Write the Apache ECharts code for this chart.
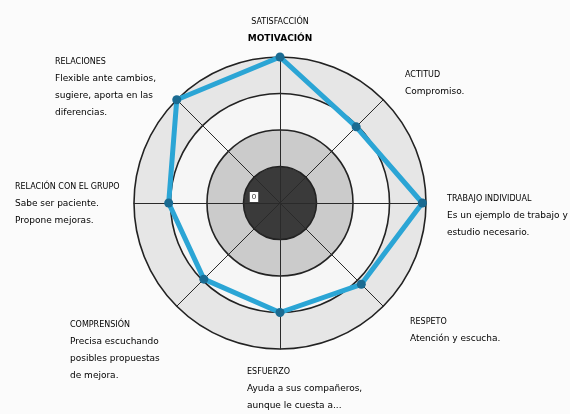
<!DOCTYPE html>
<html>
<head>
<meta charset="utf-8">
<script src="https://cdn.jsdelivr.net/npm/echarts@6/dist/echarts.min.js"></script>
<style>
  html, body { margin: 0; padding: 0; background: #fbfbfb; }
</style>
</head>
<body>
<div id="chart" style="width: 570px; height: 414px;"></div>
<script>
// ejes del radar (orden antihorario, empezando arriba)
const titles = ['SATISFACCIÓN', 'RELACIONES', 'RELACIÓN CON EL GRUPO', 'COMPRENSIÓN', 'ESFUERZO', 'RESPETO', 'TRABAJO INDIVIDUAL', 'ACTITUD'];
const notes = [
  ['MOTIVACIÓN'],
  ['Flexible ante cambios,', 'sugiere, aporta en las', 'diferencias.'],
  ['Sabe ser paciente.', 'Propone mejoras.'],
  ['Precisa escuchando', 'posibles propuestas', 'de mejora.'],
  ['Ayuda a sus compañeros,', 'aunque le cuesta a...'],
  ['Atención y escucha.'],
  ['Es un ejemplo de trabajo y', 'estudio necesario.'],
  ['Compromiso.']
];
const maxValue = 4;
const values = [4, 4, 3.05, 2.95, 3.0, 3.15, 3.9, 2.95];

// posición de cada rótulo [x, y, alineación]
const labelPos = [
  [280, 14, 'center'],
  [55, 53, 'left'],
  [15, 178, 'left'],
  [70, 316, 'left'],
  [247, 363, 'left'],
  [410, 313, 'left'],
  [447, 190, 'left'],
  [405, 66, 'left']
];

const chart = echarts.init(document.getElementById('chart'));

const labels = titles.map((t, i) => {
  const isTop = i === 0;
  const lines = notes[i].map(l => '{b|' + l + '}').join('\n');
  return {
    type: 'text',
    z: 100,
    x: labelPos[i][0],
    y: labelPos[i][1],
    style: {
      text: '{t|' + t + '}\n' + lines,
      align: labelPos[i][2],
      rich: {
        t: { fontSize: 8, color: '#909090', fontFamily: 'DejaVu Sans', lineHeight: isTop ? 16 : 17 },
        b: { fontSize: 9, color: '#151515', fontWeight: isTop ? 'bold' : 'normal', fontFamily: 'DejaVu Sans', lineHeight: 17 }
      }
    }
  };
});

const option = {
  backgroundColor: '#fbfbfb',
  animation: false,
  radar: {
    center: [280, 203],
    radius: 146,
    shape: 'circle',
    splitNumber: 4,
    indicator: titles.map(t => ({ name: '', max: maxValue, min: 0 })),
    axisName: { show: false },
    axisLine: { lineStyle: { color: '#2a2a2a', width: 1 } },
    splitLine: { lineStyle: { color: '#222', width: 1.6 } },
    splitArea: {
      show: true,
      areaStyle: { color: ['#3a3a3a', '#cbcbcb', '#f6f6f6', '#e6e6e6'] }
    }
  },
  series: [{
    type: 'radar',
    symbol: 'circle',
    symbolSize: 9,
    lineStyle: { color: '#2ba5d5', width: 5 },
    itemStyle: { color: '#1a6b92' },
    data: [{ value: values, name: 'Evaluación' }]
  }],
  graphic: labels.concat([{
    type: 'text',
    z: 100,
    x: 254,
    y: 197,
    style: {
      text: '0', fontSize: 8, fill: '#333', align: 'center', verticalAlign: 'middle',
      backgroundColor: '#ffffff', padding: [1, 2]
    }
  }])
};

chart.setOption(option);
</script>
</body>
</html>
